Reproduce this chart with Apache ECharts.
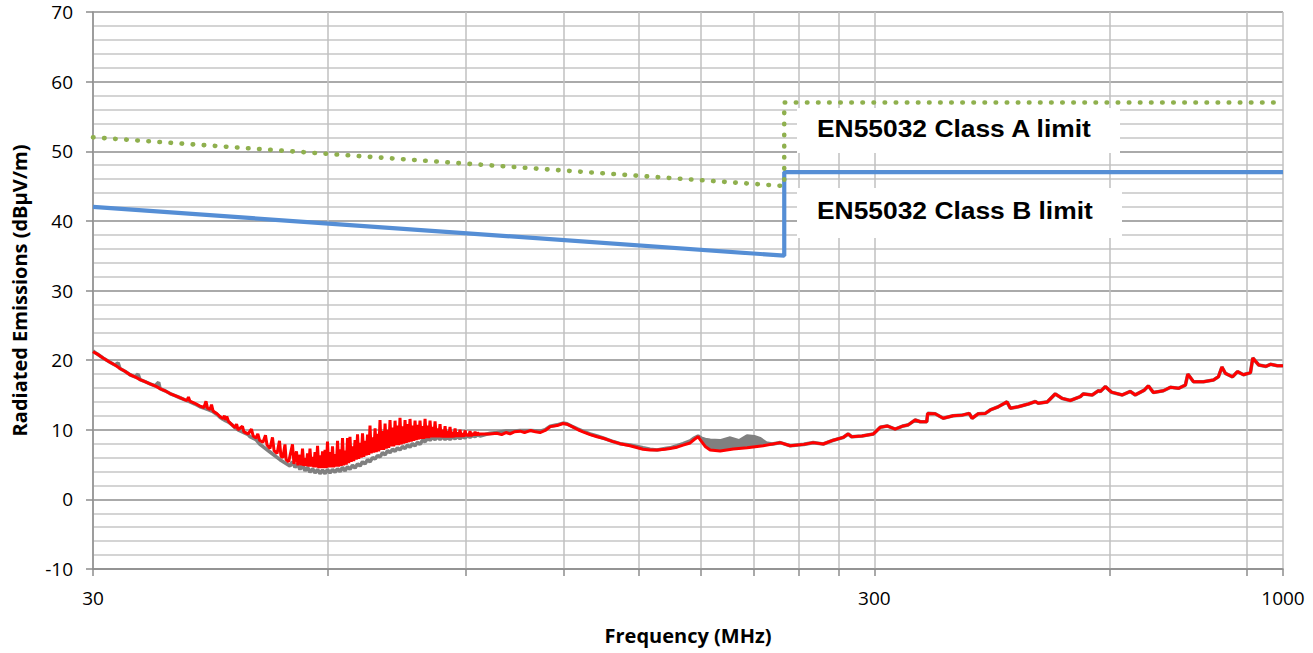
<!DOCTYPE html>
<html>
<head>
<meta charset="utf-8">
<script src="https://cdn.jsdelivr.net/npm/echarts@6/dist/echarts.min.js"></script>
<style>
html,body{margin:0;padding:0;background:#fff;}
#chart{width:1313px;height:653px;}
</style>
</head>
<body>
<div id="chart"></div>
<script>
// ---- Data (frequency MHz, level dBµV/m) ----
const xTickValues = [30, 60, 90, 120, 150, 180, 210, 240, 270, 300, 600, 900, 1000];
const xLabelValues = [30, 300, 1000];

const classALimit = [[30, 52], [230, 45], [230, 57], [1000, 57]];
const classBLimit = [[30, 42], [230, 35], [230, 47], [1000, 47]];

// red trace (30 - 94 MHz)
const redLow = [
[30.0,21.2],[30.35,20.9],[30.9,20.3],[31.54,19.7],[32.0,19.3],[32.48,18.8],[32.96,18.4],[33.46,17.9],[33.95,17.6],[34.46,17.2],
[34.97,16.9],[35.49,16.6],[36.02,16.3],[36.55,15.9],[37.09,15.6],[37.64,15.2],[38.2,14.9],[38.76,14.6],[39.34,14.3],[39.57,14.2],
[39.74,14.7],[39.92,14.1],[40.5,13.8],[41.12,13.4],[41.6,13.2],[41.85,14.1],[42.04,13.1],[42.35,12.9],[42.54,13.6],[42.73,12.7],
[43.24,12.3],[43.61,11.9],[44.0,11.6],[44.2,12.0],[44.32,11.4],[44.5,11.9],[44.72,11.2],[45.2,10.7],[45.6,10.3],[45.8,10.8],
[46.0,10.0],[46.6,10.5],[46.8,9.7],[47.4,9.4],[47.85,10.1],[48.1,9.1],[48.5,8.8],[48.76,9.4],[49.0,8.5],[49.5,8.2],
[49.87,9.2],[50.1,7.8],[50.54,7.3],[50.91,8.9],[51.15,7.0],[51.6,6.6],[51.97,8.4],[52.2,6.2],[52.5,6.0],[52.82,7.9],
[53.0,5.7],[53.4,5.4],[54.0,7.9],[54.24,5.1],[54.64,6.9],[54.87,4.9],
[55.21,6.4],[55.42,4.9],[55.62,7.3],[55.83,4.8],[56.04,5.9],[56.24,4.8],[56.45,6.6],[56.65,4.7],
[56.86,7.3],[57.07,4.7],[57.29,6.1],[57.50,4.6],[57.71,6.8],[57.92,4.6],[58.14,7.7],[58.35,4.5],
[58.56,6.3],[58.78,4.5],[59.00,6.9],[59.22,4.5],[59.44,7.1],[59.65,4.5],[59.87,8.3],[60.09,4.6],
[60.31,6.8],[60.54,4.6],[60.76,7.6],[60.99,4.6],[61.22,6.5],[61.44,4.7],[61.67,8.4],[61.89,4.7],
[62.12,7.2],[62.35,4.8],[62.58,8.8],[62.81,4.9],[63.05,7.0],[63.28,5.0],[63.51,8.8],[63.74,5.2],
[63.97,9.0],[64.21,5.4],[64.45,7.6],[64.69,5.5],[64.93,8.5],[65.17,5.7],[65.41,9.35],[65.65,5.8],
[65.89,8.1],[66.14,6.0],[66.38,9.5],[66.63,6.1],[66.88,8.4],[67.12,6.3],[67.37,9.3],[67.61,6.4],
[67.86,10.6],[68.11,6.6],[68.37,8.9],[68.62,6.7],[68.88,10.2],[69.13,6.8],[69.38,9.4],[69.64,6.9],
[69.89,11.4],[70.15,7.1],[70.41,9.8],[70.67,7.1],[70.94,10.9],[71.20,7.3],[71.46,10.0],[71.72,7.4],
[71.98,11.4],[72.25,7.6],[72.52,10.3],[72.79,7.6],[73.06,11.3],[73.32,7.8],[73.59,10.6],[73.86,7.8],
[74.13,11.7],[74.41,7.9],[74.69,10.5],[74.96,8.0],[75.24,11.4],[75.52,8.1],[75.80,10.8],[76.07,8.2],
[76.35,11.55],[76.64,8.3],[76.92,10.6],[77.21,8.4],[77.49,11.3],[77.78,8.5],[78.06,10.7],[78.35,8.6],
[78.63,11.3],[78.93,8.7],[79.22,10.5],[79.52,8.7],[79.81,11.55],[80.11,8.8],[80.40,10.6],[80.70,8.8],
[80.99,11.3],[81.29,8.9],[81.60,10.4],[81.90,8.9],[82.20,11.2],[82.50,8.9],[82.81,10.2],[83.11,8.9],
[83.41,10.8],[83.72,8.9],[84.03,10.0],[84.34,8.9],[84.66,10.5],[84.97,8.9],[85.28,9.8],[85.59,8.9],
[85.90,10.4],[86.22,8.9],[86.54,9.7],[86.86,8.9],[87.19,10.2],[87.51,9.0],[87.83,9.6],[88.15,9.0],
[88.47,10.0],[88.80,9.0],[89.13,9.5],[89.46,9.0],[89.80,9.9],[90.13,9.1],[90.46,9.4],[90.79,9.1],
[91.12,9.8],[91.46,9.1],[91.80,9.5],[92.14,9.2],[92.49,9.7],[92.83,9.2],[93.17,9.6],[93.51,9.3]
];

// red trace (94 - 227 MHz)
const redMid = [
[93.85,9.4],[96.65,9.4],[98.6,9.5],[100.0,9.3],[101.3,9.6],[102.5,9.4],[103.8,9.7],[105.6,9.8],[107.0,9.6],[109.0,9.9],
[110.5,9.7],[112.0,9.6],[113.7,9.9],[115.4,10.45],[117.75,10.6],[119.85,10.9],[121.26,10.8],[123.1,10.45],[125.3,10.0],[127.1,9.7],
[129.8,9.3],[132.5,9.0],[135.7,8.7],[138.9,8.3],[141.8,8.0],[146.0,7.7],[151.7,7.2],[154.9,7.1],[158.1,7.1],[161.9,7.2],
[164.3,7.3],[167.7,7.5],[170.7,7.8],[174.3,8.1],[176.4,8.6],[178.4,9.0],[180.0,8.4],[182.2,7.6],[184.9,7.1],[190.4,6.95],
[197.9,7.25],[206.2,7.4],[216.1,7.7]
];

// red trace (227 - 1000 MHz), grey trace coincides here
const redHigh = [
[227.3,8.15],[234.1,7.7],[243.6,7.9],[250.5,8.15],[258.0,7.95],[265.8,8.5],[273.6,8.9],[277.6,9.4],[280.5,9.0],[289.2,9.1],
[299.1,9.4],[305.2,10.35],[311.5,10.55],[318.9,10.1],[326.6,10.55],[331.4,10.7],[338.3,11.4],[343.4,11.15],[350.0,11.15],[351.0,12.35],
[358.8,12.3],[367.4,11.65],[378.3,12.0],[388.7,12.1],[396.6,12.35],[400.1,11.65],[407.4,12.3],[416.0,12.35],[422.1,12.85],[432.1,13.3],
[443.4,14.0],[447.7,13.1],[458.4,13.3],[472.1,13.7],[481.9,14.05],[486.2,13.8],[499.3,14.0],[511.2,15.15],[521.9,14.5],[534.3,14.2],
[550.3,14.75],[555.2,15.15],[570.0,15.0],[580.4,15.6],[583.8,15.5],[592.5,16.2],[603.1,15.4],[623.0,15.0],[637.8,15.5],[647.1,15.0],
[664.6,15.7],[672.5,16.3],[682.5,15.35],[702.9,15.6],[717.5,16.1],[734.8,15.95],[750.0,16.4],[755.5,18.0],[768.0,16.9],[791.0,16.9],
[814.7,17.15],[826.6,17.6],[835.3,19.0],[843.9,18.1],[861.9,17.6],[874.5,18.35],[889.9,17.9],[908.5,18.2],[914.8,20.3],[931.0,19.3],
[950.9,19.1],[963.7,19.4],[983.6,19.2],[1000,19.2]
];

// grey trace (30 - 94 MHz)
const grayLow = [
[30.0,21.3],[30.35,20.9],[30.9,20.3],[31.54,19.7],[32.0,19.3],[32.3,19.6],[32.48,18.8],[32.96,18.4],[33.46,17.9],[33.95,17.6],
[34.25,18.0],[34.46,17.2],[34.97,16.9],[35.49,16.6],[36.02,16.3],[36.4,16.8],[36.55,15.9],[37.09,15.6],[37.64,15.2],[38.2,14.9],
[38.76,14.6],[39.34,14.3],[39.92,14.0],[40.5,13.7],[41.12,13.3],[41.6,13.1],[42.35,12.8],[42.73,12.6],[43.24,12.2],[43.61,11.8],
[44.0,11.5],[44.32,11.3],[44.72,11.1],[45.2,10.7],[45.6,10.3],[46.0,10.0],[46.8,9.6],[47.4,9.3],[47.64,9.0],[48.5,8.6],
[49.07,7.9],[50.54,6.8],[52.05,5.7],[53.60,4.8],
[54.00,5.4],[54.40,4.6],[54.81,5.1],[55.21,4.3],[55.62,4.9],[56.04,4.1],[56.45,4.6],[56.86,3.9],[57.29,4.4],[57.71,3.8],
[58.14,4.3],[58.56,3.7],[59.00,4.2],[59.44,3.7],[59.87,4.3],[60.31,3.8],[60.76,4.3],[61.22,3.9],[61.67,4.4],[62.12,4.0],
[62.58,4.6],[63.05,4.1],[63.51,4.7],[63.97,4.3],[64.45,4.9],[64.93,4.5],[65.41,5.1],[65.89,4.8],[66.38,5.4],[66.88,5.1],
[67.37,5.7],[67.86,5.4],[68.37,6.0],[68.88,5.8],[69.38,6.3],[69.89,6.1],[70.41,6.7],[70.94,6.4],[71.46,7.0],[71.98,6.7],
[72.52,7.2],[73.06,6.9],[73.59,7.4],[74.13,7.1],[74.69,7.6],[75.24,7.3],[75.80,7.8],[76.35,7.5],[76.92,8.0],[77.49,7.7],
[78.06,8.2],[78.63,7.9],[79.22,8.5],[79.81,8.3],[80.40,8.8],[80.99,8.5],[81.60,8.9],[82.20,8.6],[82.81,9.0],[83.41,8.6],
[84.03,9.0],[84.66,8.6],[85.28,9.0],[85.90,8.6],[86.54,9.0],[87.19,8.7],[87.83,9.1],[88.47,8.7],[89.13,9.1],[89.80,8.8],
[90.46,9.2],[91.12,8.9],[91.80,9.2],[92.49,9.0],[93.17,9.3],[93.85,9.1]
];

// grey trace (94 - 227 MHz)
const grayMid = [
[96.65,9.5],[98.6,9.6],[101.3,9.8],[103.8,9.8],[105.6,9.9],[109.0,9.9],[112.0,9.8],[113.7,10.0],[115.4,10.5],[117.75,10.7],
[119.85,10.95],[121.26,10.85],[123.1,10.5],[125.3,10.1],[127.1,9.8],[129.8,9.4],[132.5,9.1],[135.7,8.7],[138.9,8.3],[141.8,8.0],
[146.0,7.8],[151.7,7.4],[154.9,7.2],[158.1,7.1],[161.9,7.3],[164.3,7.4],[167.7,7.7],[170.7,8.0],[174.3,8.4],[176.4,8.8],
[178.4,9.1],[180.0,8.8],[182.2,8.6],[184.9,8.5],[190.4,8.4],[196.2,8.8],[201.5,8.4],[206.2,9.1],[210.5,9.0],[214.2,8.7],
[218.0,8.1],[222.0,7.95]
];

// grey band (grey trace envelope above the red one, 180 - 226 MHz)
const grayBandTop = [
[180.0,8.8],[182.2,8.6],[184.9,8.5],[187.5,8.6],[190.4,8.4],[193.2,8.6],[196.2,8.8],[199.0,8.5],[201.5,8.4],[204.0,8.8],
[206.2,9.1],[210.5,9.0],[214.2,8.7],[218.0,8.1],[222.0,7.95],[226.0,7.9]
];
const grayBandBottom = [
[226.0,7.9],[216.1,7.7],[206.2,7.4],[197.9,7.25],[190.4,6.95],[184.9,7.1],[182.2,7.6],[180.0,8.4]
];

const labelA = 'EN55032 Class A limit';
const labelB = 'EN55032 Class B limit';

// ---- Chart ----
const chart = echarts.init(document.getElementById('chart'), null, {renderer: 'svg'});
const fontFam = '"Open Sans", "Liberation Sans", sans-serif';
const axisGrey = '#8c8c8c';

const option = {
  animation: false,
  backgroundColor: '#ffffff',
  grid: {left: 93, right: 30, top: 12, bottom: 84, containLabel: false},
  xAxis: {
    type: 'log', logBase: 10, min: 30, max: 1000,
    axisLine: {show: true, onZero: false, lineStyle: {color: axisGrey, width: 1.5}},
    axisTick: {show: true, length: 7, customValues: xTickValues, lineStyle: {color: axisGrey, width: 1.5}},
    axisLabel: {customValues: xLabelValues, formatter: v => String(Math.round(v)), margin: 19,
                fontSize: 19, color: '#000', fontFamily: fontFam},
    splitLine: {show: true, lineStyle: {color: '#c0c0c0', width: 1.5}},
    minorTick: {show: false}, minorSplitLine: {show: false},
    name: 'Frequency (MHz)', nameLocation: 'middle', nameGap: 56,
    nameTextStyle: {fontSize: 20, fontWeight: 'bold', color: '#000', fontFamily: fontFam}
  },
  yAxis: {
    type: 'value', min: -10, max: 70, interval: 10,
    axisLine: {show: true, lineStyle: {color: axisGrey, width: 1.5}},
    axisTick: {show: true, length: 7, lineStyle: {color: axisGrey, width: 1.5}},
    axisLabel: {margin: 20, fontSize: 19, color: '#000', fontFamily: fontFam},
    splitLine: {show: true, lineStyle: {color: '#8e8e8e', width: 1.5}},
    minorTick: {show: false, splitNumber: 5},
    minorSplitLine: {show: true, lineStyle: {color: '#c6c6c6', width: 1.5}},
    name: 'Radiated Emissions (dBμV/m)', nameLocation: 'middle', nameGap: 64,
    nameTextStyle: {fontSize: 20, fontWeight: 'bold', color: '#000', fontFamily: fontFam}
  },
  series: [
    {name: 'grey', type: 'line', data: grayLow.concat(grayMid, redHigh), symbol: 'none',
     lineStyle: {color: '#808080', width: 3.6}, z: 2},
    {name: 'greyBand', type: 'custom', data: [[200, 8]], silent: true, z: 2,
     renderItem: (params, api) => {
       const pts = grayBandTop.concat(grayBandBottom).map(p => api.coord(p));
       return {type: 'polygon', shape: {points: pts}, style: {fill: '#808080', stroke: '#808080', lineWidth: 1}};
     }},
    {name: 'red', type: 'line', data: redLow.concat(redMid, redHigh), symbol: 'none',
     lineStyle: {color: '#ff0000', width: 3}, z: 3},
    {name: 'Class B', type: 'line', data: classBLimit, symbol: 'none',
     lineStyle: {color: '#558ed5', width: 4.2}, z: 4},
    {name: 'Class A', type: 'line', data: classALimit, symbol: 'none',
     lineStyle: {color: '#8fb04e', width: 4.6, type: [0.5, 10.6], cap: 'round'}, z: 4}
  ],
  graphic: [
    {type: 'rect', shape: {x: 797, y: 108, width: 323, height: 45}, style: {fill: '#fff'}, z: 100},
    {type: 'text', x: 817, y: 128.5, scaleX: 1.1, z: 101,
     style: {text: labelA, font: 'bold 24px "Liberation Sans", Arial, sans-serif', fill: '#000', verticalAlign: 'middle'}},
    {type: 'rect', shape: {x: 797, y: 188, width: 325, height: 50}, style: {fill: '#fff'}, z: 100},
    {type: 'text', x: 817, y: 210, scaleX: 1.1, z: 101,
     style: {text: labelB, font: 'bold 24px "Liberation Sans", Arial, sans-serif', fill: '#000', verticalAlign: 'middle'}}
  ]
};
chart.setOption(option);
</script>
</body>
</html>
